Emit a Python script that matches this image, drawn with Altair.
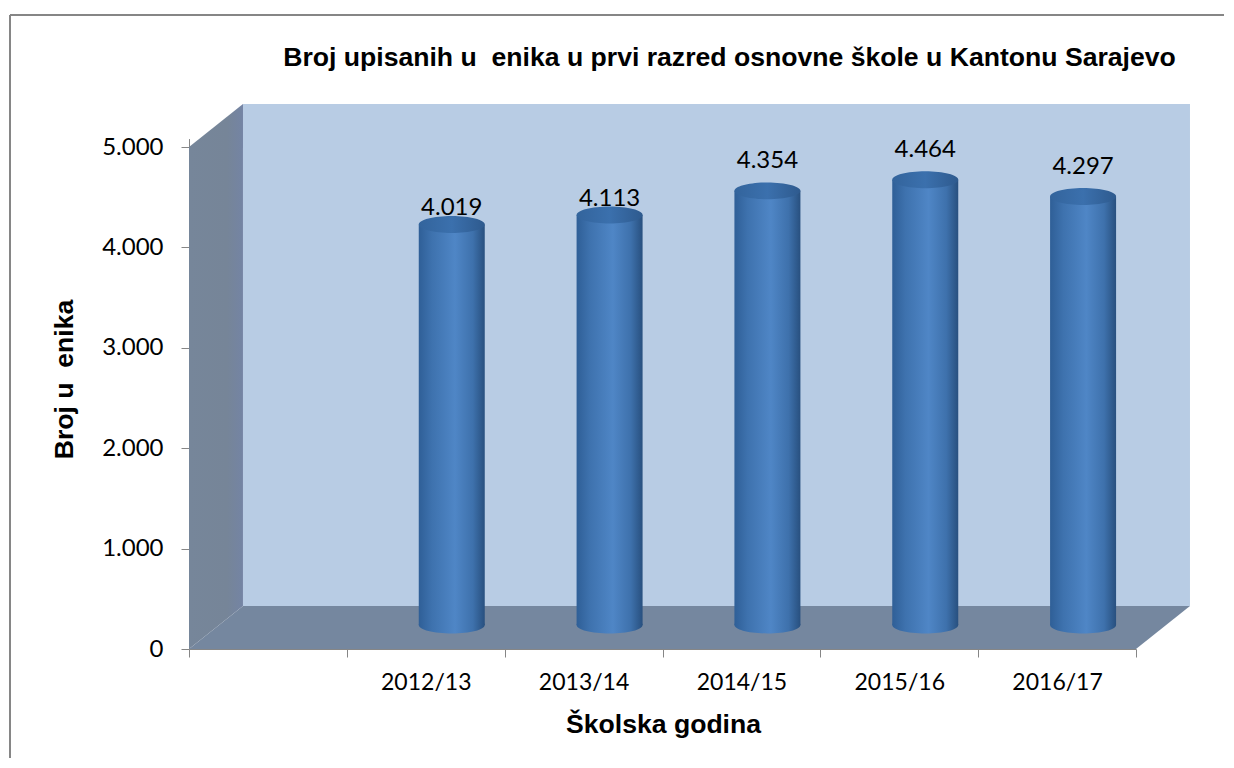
import altair as alt
import pandas as pd

years = ["", "2012/13", "2013/14", "2014/15", "2015/16", "2016/17"]
bar_years = years[1:]
pupils = [4019, 4113, 4354, 4464, 4297]
y_ticks = [0, 1000, 2000, 3000, 4000, 5000]

TITLE = "Broj upisanih u\u00a0\u00a0enika u prvi razred osnovne škole u Kantonu Sarajevo"
Y_TITLE = "Broj u\u00a0\u00a0enika"
X_TITLE = "Školska godina"

# the 3-D box, in data units (category position, pupils)
DX, DY = 0.342, 428
N = 6
left_x = [0, DX]
left_top = [5000, 5000 + DY]
left_bottom = [0, DY]
back_x = [DX, N + DX]
back_top = [5000 + DY, 5000 + DY]
back_bottom = [DY, DY]
floor_x = [0, DX, N, N + DX]
floor_top = [0, DY, DY, DY]
floor_bottom = [0, 0, 0, DY]

W, H = 947, 502
BOLD = 26.6
xq = alt.Scale(domain=[0, N], nice=False, zero=False)
ys = alt.Scale(domain=[0, 5000], nice=False)

y_axis = alt.Axis(title=Y_TITLE, titleFont="Liberation Sans", titleFontWeight="bold", titleFontSize=BOLD,
                  titleColor="black", titleX=-111, titleY=232, values=y_ticks, grid=False,
                  labelExpr="replace(format(datum.value, ','), ',', '.')",
                  labelFont="Lato", labelFontSize=24, labelColor="black", labelPadding=18,
                  tickSize=8, tickColor="#868686", domainColor="#868686")


def grad(*stops):
    return alt.LinearGradient(gradient="linear", x1=0, x2=1, y1=0, y2=0,
                              stops=[alt.GradientStop(offset=o, color=c) for o, c in stops])


def wall(xs, top, bottom, fill):
    df = pd.DataFrame({"px": xs, "top": top, "bottom": bottom})
    return alt.Chart(df).mark_area(fill=fill, clip=False, interpolate="linear").encode(
        x=alt.X("px:Q", scale=xq, axis=None),
        y=alt.Y("top:Q", scale=ys, axis=y_axis),
        y2="bottom:Q",
    )


left_wall = wall(left_x, left_top, left_bottom, grad((0, "#76869a"), (0.7, "#768598"), (1, "#7484a4")))
back_wall = wall(back_x, back_top, back_bottom, "#b8cce4")
floor = wall(floor_x, floor_top, floor_bottom, "#75879f")

df = pd.DataFrame({"year": bar_years, "pupils": pupils, "zero": [0] * len(pupils)})
xb = alt.X("year:N", sort=years, scale=alt.Scale(domain=years, paddingInner=0, paddingOuter=0),
           axis=alt.Axis(title=X_TITLE, titleFont="Liberation Sans", titleFontWeight="bold", titleFontSize=BOLD,
                         titleColor="black", titleX=474, titleY=62, labelAngle=0, labelFont="Lato", labelFontSize=23,
                         labelColor="black", labelPadding=14, tickBand="extent", tickSize=8, tickColor="#868686",
                         domainColor="#868686", domainWidth=1, labelOverlap=False))
yb = alt.Y("pupils:Q", scale=ys, axis=y_axis)

body_fill = grad((0, "#2f5f97"), (0.2, "#3e72ae"), (0.55, "#4f86c6"), (0.82, "#3e71ac"), (1, "#28507f"))
top_fill = grad((0, "#33649c"), (0.5, "#3b70ad"), (1, "#2e5a8e"))
ELLIPSE = "M -1 0 A 1 0.257 0 1 1 1 0 A 1 0.257 0 1 1 -1 0 Z"
SIZE = 66 * 66

bottom_cap = alt.Chart(df).mark_point(filled=True, fill=body_fill, opacity=1, shape=ELLIPSE, size=SIZE,
                                      xOffset=26, yOffset=-24, strokeWidth=0).encode(
    x=xb, y=alt.Y("zero:Q", scale=ys, axis=y_axis))
body = alt.Chart(df).mark_bar(fill=body_fill, width=66, xOffset=26, yOffset=-21, y2Offset=-24).encode(
    x=xb, y=yb, y2="zero:Q")
top_cap = alt.Chart(df).mark_point(filled=True, fill=top_fill, opacity=1, shape=ELLIPSE, size=SIZE,
                                   xOffset=26, yOffset=-21, strokeWidth=0).encode(x=xb, y=yb)


def labels(test, dy):
    return alt.Chart(df).transform_filter(test).transform_calculate(
        label="replace(format(datum.pupils, ','), ',', '.')"
    ).mark_text(font="Lato", fontSize=24, color="black", dx=26, dy=dy).encode(
        x=xb, y=yb, text="label:N")


low_labels = labels("datum.pupils < 4200", -37)
high_labels = labels("datum.pupils >= 4200", -50.5)

frame_top = alt.Chart(df).mark_rule(color="#868686", strokeWidth=2).encode(
    x=alt.value(-179), x2=alt.value(1035), y=alt.value(-132))
frame_left = alt.Chart(df).mark_rule(color="#868686", strokeWidth=2).encode(
    x=alt.value(-179), y=alt.value(-132), y2=alt.value(611))
title_text = alt.Chart(pd.DataFrame({"t": [TITLE]})).mark_text(
    font="Liberation Sans", fontSize=BOLD, fontWeight="bold", color="black", baseline="alphabetic", align="center"
).encode(x=alt.value(540.5), y=alt.value(-81), text="t:N")

chart = alt.layer(
    left_wall, back_wall, floor, frame_top, frame_left, title_text,
    bottom_cap, body, top_cap, low_labels, high_labels,
).resolve_scale(x="independent").properties(
    width=W, height=H,
    padding={"left": 1, "top": 6, "right": 0, "bottom": 0},
    background="white",
).configure_view(stroke=None)

chart.save("out.html", embed_options={"renderer": "svg", "actions": False})
